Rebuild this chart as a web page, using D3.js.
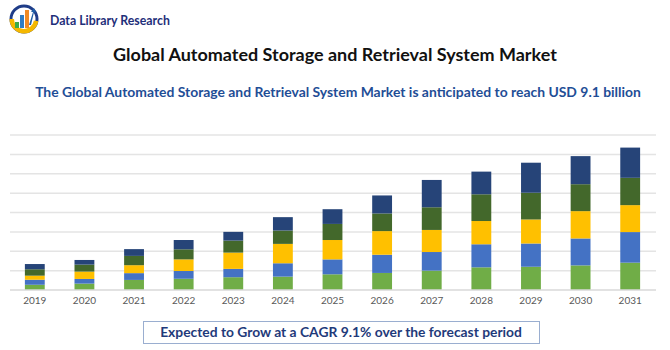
<!DOCTYPE html>
<html><head><meta charset="utf-8">
<script src="https://cdn.jsdelivr.net/npm/d3@7/dist/d3.min.js"></script>
<style>body{margin:0;background:#fff}svg{display:block}</style>
</head><body><svg id="c" width="670" height="350"></svg>
<script>
const years = ["2019","2020","2021","2022","2023","2024","2025","2026","2027","2028","2029","2030","2031"];
const seriesNames = ["s1","s2","s3","s4","s5"];
const s1 = [0.27,0.33,0.52,0.58,0.66,0.69,0.81,0.88,1.00,1.17,1.20,1.27,1.41];
const s2 = [0.26,0.24,0.35,0.40,0.43,0.69,0.77,0.94,0.96,1.19,1.20,1.39,1.58];
const s3 = [0.21,0.38,0.41,0.60,0.84,1.00,1.00,1.22,1.14,1.20,1.24,1.41,1.39];
const s4 = [0.33,0.36,0.48,0.52,0.62,0.69,0.83,0.91,1.17,1.38,1.38,1.39,1.41];
const s5 = [0.27,0.24,0.35,0.48,0.45,0.69,0.76,0.93,1.41,1.17,1.55,1.45,1.56];
const colors = ["#70AD47","#4472C4","#FFC000","#43682B","#264478"];
const yTicks = [0,1,2,3,4,5,6,7,8];
const titleText = "Global Automated Storage and Retrieval System Market";
const subtitleText = "The Global Automated Storage and Retrieval System Market is anticipated to reach USD 9.1 billion";
const footerText = "Expected to Grow at a CAGR 9.1% over the forecast period";
const logoText = "Data Library Research";

const svg = d3.select("#c");
const font = "Lato, 'Open Sans', sans-serif";

function fitText(sel, target){
  const w = sel.node().getComputedTextLength();
  const fs = parseFloat(sel.attr("font-size"));
  sel.attr("font-size", fs*target/w);
}

// logo
const lg = svg.append("g");
lg.append("circle").attr("cx",24).attr("cy",19).attr("r",13).attr("fill","none").attr("stroke","#1F3C88").attr("stroke-width",3);
lg.append("path").attr("d",d3.arc()({innerRadius:10,outerRadius:14.5,startAngle:Math.PI*0.55,endAngle:Math.PI*1.5})).attr("transform","translate(24,19)").attr("fill","#F5B800");
[["#3BAA4A",15,22,4],["#2E7CC4",20,15,4],["#F08A24",25,10,4]].forEach(([c,x,y,w])=>{
  lg.append("rect").attr("x",x).attr("y",y).attr("width",w).attr("height",28-y).attr("fill",c);
});
lg.append("path").attr("d","M29 25 L33 12 L31 12 L34 8 L36 13 L34 12 L31 25Z").attr("fill","#1F5FA8");
const lt = lg.append("text").attr("x",50).attr("y",25).attr("font-family",font).attr("font-weight",700).attr("font-size",12).attr("fill","#1F2F7A").text(logoText);
fitText(lt,120);

const t = svg.append("text").attr("x",335).attr("y",61).attr("text-anchor","middle").attr("font-family",font).attr("font-weight",700).attr("font-size",17).attr("fill","#111").text(titleText);
fitText(t,444);
const st = svg.append("text").attr("x",338).attr("y",97).attr("text-anchor","middle").attr("font-family",font).attr("font-weight",700).attr("font-size",13).attr("fill","#1F4E96").text(subtitleText);
fitText(st,606);

// chart
const x = d3.scaleBand().domain(years).range([10,655]).paddingInner(0.6).paddingOuter(0.3);
const y = d3.scaleLinear().domain([0,8]).range([290,135]);

svg.append("g").selectAll("line").data(yTicks.slice(1)).join("line")
  .attr("x1",10).attr("x2",656).attr("y1",d=>y(d)).attr("y2",d=>y(d))
  .attr("stroke","#e4e4e4").attr("stroke-width",1.5);

const data = years.map((yr,i)=>({year:yr,s1:s1[i],s2:s2[i],s3:s3[i],s4:s4[i],s5:s5[i]}));
const stack = d3.stack().keys(seriesNames)(data);
svg.append("g").selectAll("g").data(stack).join("g").attr("fill",(d,i)=>colors[i])
  .selectAll("rect").data(d=>d).join("rect")
  .attr("x",d=>x(d.data.year)).attr("width",x.bandwidth())
  .attr("y",d=>y(d[1])).attr("height",d=>y(d[0])-y(d[1]));

const ax = svg.append("g").attr("transform","translate(0,290)").call(d3.axisBottom(x).tickSize(0).tickPadding(7));
ax.select(".domain").attr("stroke","#d9d9d9").attr("stroke-width",1.5).attr("d","M10,0H656");
ax.selectAll("text").attr("font-family",font).attr("font-size",10).attr("fill","#595959");

// footer
svg.append("rect").attr("x",143.5).attr("y",321.5).attr("width",396).attr("height",22).attr("fill","#fff").attr("stroke","#9AAED0").attr("stroke-width",1);
const ft = svg.append("text").attr("x",341).attr("y",337).attr("text-anchor","middle").attr("font-family",font).attr("font-weight",700).attr("font-size",13).attr("fill","#1F3A7A").text(footerText);
fitText(ft,362);
</script></body></html>
